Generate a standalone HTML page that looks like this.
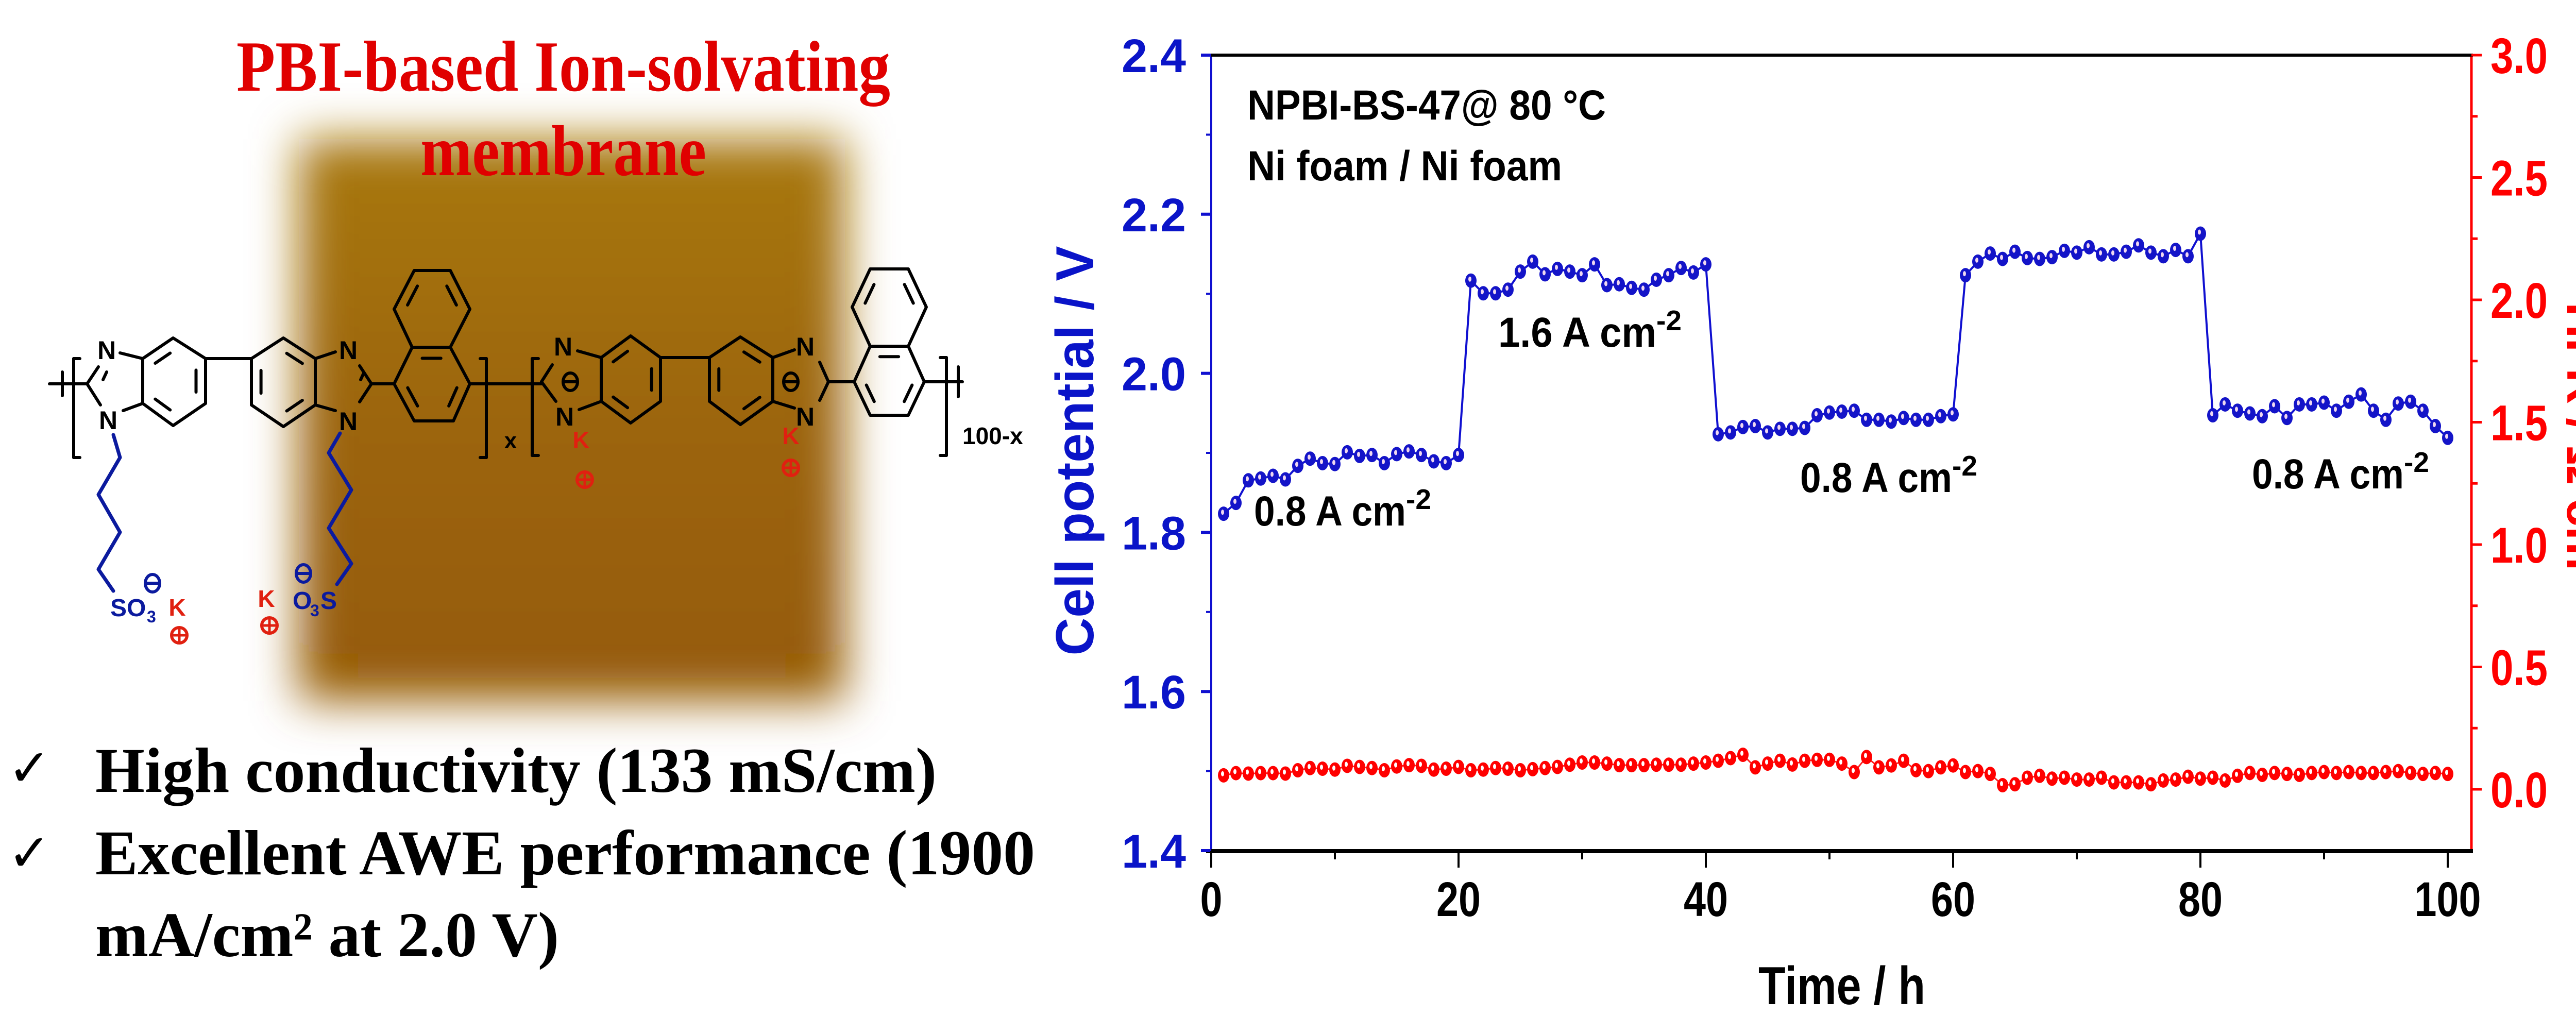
<!DOCTYPE html>
<html><head><meta charset="utf-8"><style>
html,body{margin:0;padding:0;background:#fff;}
svg{display:block;}
</style></head><body>
<svg id="s" xmlns="http://www.w3.org/2000/svg" width="5072" height="1972" viewBox="0 0 5072 1972">
<defs>
<filter id="blur" x="-30%" y="-30%" width="160%" height="160%"><feGaussianBlur stdDeviation="45"/></filter>
<linearGradient id="brown" x1="0" y1="0" x2="0" y2="1">
<stop offset="0" stop-color="#a8780e"/><stop offset="0.5" stop-color="#9c650a"/><stop offset="1" stop-color="#955a06"/>
</linearGradient>
</defs>
<rect width="5072" height="1972" fill="#fff"/>
<rect x="580" y="270" width="1060" height="1090" fill="url(#brown)" filter="url(#blur)"/>

<g font-family="'Liberation Serif',serif" font-weight="bold" fill="#e00000" font-size="140">
<text x="459" y="176" textLength="1269" lengthAdjust="spacingAndGlyphs">PBI-based Ion-solvating</text>
<text x="816" y="340" textLength="555" lengthAdjust="spacingAndGlyphs">membrane</text>
</g>

<g id="chem" stroke="#000" stroke-width="6" fill="none" stroke-linecap="round"></g>
<g id="chemtext" font-family="'Liberation Sans',sans-serif" font-weight="bold"></g>

<g font-family="'Liberation Serif',serif" font-weight="bold" fill="#000" font-size="124">
<text x="185" y="1537" textLength="1633" lengthAdjust="spacingAndGlyphs">High conductivity (133 mS/cm)</text>
<text x="185" y="1697" textLength="1824" lengthAdjust="spacingAndGlyphs">Excellent AWE performance (1900</text>
<text x="185" y="1856" textLength="900" lengthAdjust="spacingAndGlyphs">mA/cm² at 2.0 V)</text>
</g>
<g font-family="'DejaVu Sans',sans-serif" fill="#000" font-size="100">
<text x="15" y="1525">✓</text>
<text x="15" y="1690">✓</text>
</g>

<g id="plot"></g>
</svg>
<script>
(function(){
var NS="http://www.w3.org/2000/svg";
function el(p,t,a,txt){var e=document.createElementNS(NS,t);for(var k in a)e.setAttribute(k,a[k]);if(txt!==undefined)e.textContent=txt;p.appendChild(e);return e;}
var chem=document.getElementById('chem'),ct=document.getElementById('chemtext'),plot=document.getElementById('plot');
function L(a,b,c,d,col,w){var o={x1:a,y1:b,x2:c,y2:d};if(col)o.stroke=col;if(w)o['stroke-width']=w;el(chem,'line',o);}
function ring(v,edges){var cx=0,cy=0;v.forEach(function(p){cx+=p[0];cy+=p[1];});cx/=6;cy/=6;
 var d=v.map(function(p){return p.join(',');}).join(' ');el(chem,'polygon',{points:d,'stroke-linejoin':'round'});
 edges.forEach(function(i){var a=v[i],b=v[(i+1)%6];var f=0.7;
  var ax=cx+(a[0]-cx)*f,ay=cy+(a[1]-cy)*f,bx=cx+(b[0]-cx)*f,by=cy+(b[1]-cy)*f;
  var s=0.15;L(ax+(bx-ax)*s,ay+(by-ay)*s,bx-(bx-ax)*s,by-(by-ay)*s);});}
ring([[277,696],[336,656],[399,696],[399,783],[336,826],[277,783]],[0,2,4]);
ring([[488,696],[550,656],[612,696],[612,786],[550,828],[488,786]],[5,1,3]);
ring([[765,745],[800,674],[874,674],[912,745],[880,817],[804,817]],[1,3,5]);
ring([[800,674],[765,600],[804,525],[874,525],[912,600],[874,674]],[1,3]);
ring([[1167,694],[1224,652],[1282,694],[1282,779],[1224,821],[1167,779]],[0,2,4]);
ring([[1377,694],[1437,654],[1500,694],[1500,779],[1437,824],[1377,779]],[5,1,3]);
ring([[1658,741],[1689,672],[1763,672],[1794,741],[1763,806],[1689,806]],[1,3,5]);
ring([[1689,672],[1654,596],[1689,522],[1763,522],[1798,596],[1763,672]],[1,3]);
L(96,745,169,745);L(121,722,121,768);
L(169,745,191,712);L(169,745,195,786);L(200,737,207,722);
L(233,685,277,696);L(239,797,277,783);
L(399,696,488,696);
L(612,696,651,683);L(612,786,651,797);
L(698,710,721,745);L(698,780,721,745);L(700,737,706,724);
L(721,745,765,745);L(912,745,1051,745);
L(1051,741,1072,708);L(1051,741,1079,779);
L(1121,681,1167,694);L(1124,795,1167,779);
L(1282,694,1377,694);
L(1500,694,1542,679);L(1500,779,1542,792);
L(1591,703,1608,741);L(1591,777,1608,741);
L(1608,741,1658,741);L(1794,741,1868,741);L(1860,712,1860,770);
function brk(x,y1,y2,dir){L(x,y1,x,y2);L(x,y1,x+dir*12,y1);L(x,y2,x+dir*12,y2);}
brk(143,696,888,1);brk(944,696,888,-1);brk(1033,696,884,1);brk(1837,694,884,-1);
el(chem,'polyline',{points:'220,844 233,888 191,960 233,1033 191,1105 220,1147',stroke:'#0b1a9e','stroke-width':7,'stroke-linejoin':'round'});
el(chem,'polyline',{points:'660,841 638,879 682,951 638,1025 682,1094 654,1134',stroke:'#0b1a9e','stroke-width':7,'stroke-linejoin':'round'});
function T(x,y,s,fs,col,anchor){el(ct,'text',{x:x,y:y,'font-size':fs,fill:col||'#000','text-anchor':anchor||'middle'},s);}
T(207,697,'N',50);T(210,833,'N',50);T(676,697,'N',50);T(676,835,'N',50);
T(1093,690,'N',50);T(1096,826,'N',50);T(1563,690,'N',50);T(1563,826,'N',50);
T(991,870,'x',44);T(1868,862,'100-x',46,'#000','start');
function minus(x,y,col){el(chem,'ellipse',{cx:x,cy:y,rx:14,ry:17,stroke:col,'stroke-width':6});L(x-12,y,x+12,y,col,6);}
function plus(x,y,col){el(chem,'circle',{cx:x,cy:y,r:15,stroke:col,'stroke-width':6});L(x-13,y,x+13,y,col,5);L(x,y-13,x,y+13,col,5);}
minus(1107,741,'#000');minus(1535,741,'#000');
minus(296,1132,'#0b1a9e');minus(589,1113,'#0b1a9e');
T(214,1196,'SO',48,'#0b1a9e','start');T(285,1208,'3',32,'#0b1a9e','start');
T(568,1182,'O',48,'#0b1a9e','start');T(602,1196,'3',32,'#0b1a9e','start');T(622,1182,'S',48,'#0b1a9e','start');
T(344,1195,'K',46,'#e02010');plus(348,1233,'#e02010');
T(517,1178,'K',46,'#e02010');plus(523,1214,'#e02010');
T(1128,870,'K',46,'#e02010');plus(1135,931,'#e02010');
T(1535,862,'K',46,'#e02010');plus(1535,908,'#e02010');

var X0=2351,XS=24,YT=107,YB=1652;
function vy(v){return YT+(2.4-v)*1544;}
function hy(v){return YT+(3.0-v)*475;}
var F="'Liberation Sans',Arial,sans-serif";
el(plot,'line',{x1:X0,y1:YT,x2:X0,y2:YB,stroke:'#1010d0','stroke-width':4});
el(plot,'line',{x1:4797,y1:YT,x2:4797,y2:YB,stroke:'#ff0000','stroke-width':5});
el(plot,'line',{x1:X0-10,y1:YT,x2:4800,y2:YT,stroke:'#000','stroke-width':6});
el(plot,'line',{x1:X0-10,y1:YB,x2:4800,y2:YB,stroke:'#000','stroke-width':8});
for(var i=0;i<=10;i++){var v=2.4-i*0.1,y=vy(v),maj=(i%2==0);
 el(plot,'line',{x1:X0-(maj?20:10),y1:y,x2:X0,y2:y,stroke:'#1010d0','stroke-width':maj?6:4});
 if(maj)el(plot,'text',{x:2177,y:y+33,'font-family':F,'font-weight':'bold','font-size':92,fill:'#0a14c8',textLength:125,lengthAdjust:'spacingAndGlyphs'},v.toFixed(1));}
for(var i=0;i<=12;i++){var v=3.0-i*0.25,y=hy(v),maj=(i%2==0);if(y>YB)break;
 el(plot,'line',{x1:4797,y1:y,x2:4797+(maj?20:12),y2:y,stroke:'#ff0000','stroke-width':5});
 if(maj)el(plot,'text',{x:4834,y:y+35,'font-family':F,'font-weight':'bold','font-size':97,fill:'#ff0000',textLength:111,lengthAdjust:'spacingAndGlyphs'},v.toFixed(1));}
for(var t=0;t<=100;t+=10){var x=X0+t*XS,maj=(t%20==0);
 el(plot,'line',{x1:x,y1:YB,x2:x,y2:YB+(maj?32:16),stroke:'#000','stroke-width':4});
 if(maj){var s=String(t),w=43*s.length;el(plot,'text',{x:x-w/2,y:1778,'font-family':F,'font-weight':'bold','font-size':95,fill:'#000',textLength:w,lengthAdjust:'spacingAndGlyphs'},s);}}
el(plot,'text',{x:0,y:0,transform:'translate(2122,875) rotate(-90)','font-family':F,'font-weight':'bold','font-size':104,fill:'#0a14c8','text-anchor':'middle',textLength:795,lengthAdjust:'spacingAndGlyphs'},'Cell potential / V');
var hl=el(plot,'text',{x:0,y:0,transform:'translate(4983,587) rotate(90)','font-family':F,'font-weight':'bold','font-size':95,fill:'#ff0000'});
hl.innerHTML='<tspan textLength="520" lengthAdjust="spacingAndGlyphs">HFR / Ω cm</tspan><tspan dy="-35" font-size="62">2</tspan>';
el(plot,'text',{x:3413,y:1949,'font-family':F,'font-weight':'bold','font-size':104,fill:'#000',textLength:324,lengthAdjust:'spacingAndGlyphs'},'Time / h');
function ann(x,y,s,w){var t=el(plot,'text',{x:x,y:y,'font-family':F,'font-weight':'bold','font-size':82,fill:'#000'});t.innerHTML=s;}
el(plot,'text',{x:2421,y:232,'font-family':F,'font-weight':'bold','font-size':82,fill:'#000',textLength:696,lengthAdjust:'spacingAndGlyphs'},'NPBI-BS-47@ 80 °C');
el(plot,'text',{x:2421,y:350,'font-family':F,'font-weight':'bold','font-size':82,fill:'#000',textLength:611,lengthAdjust:'spacingAndGlyphs'},'Ni foam / Ni foam');
ann(2908,673,'<tspan textLength="307" lengthAdjust="spacingAndGlyphs">1.6 A cm</tspan><tspan dy="-32" font-size="55">-2</tspan>');
ann(2434,1020,'<tspan textLength="295" lengthAdjust="spacingAndGlyphs">0.8 A cm</tspan><tspan dy="-32" font-size="55">-2</tspan>');
ann(3494,955,'<tspan textLength="295" lengthAdjust="spacingAndGlyphs">0.8 A cm</tspan><tspan dy="-32" font-size="55">-2</tspan>');
ann(4371,948,'<tspan textLength="295" lengthAdjust="spacingAndGlyphs">0.8 A cm</tspan><tspan dy="-32" font-size="55">-2</tspan>');
var B=[1560,1500,1375,1365,1350,1370,1295,1255,1280,1285,1220,1240,1235,1280,1230,1215,1235,1270,1280,1235,
270,340,340,320,220,165,235,205,220,240,180,295,290,310,320,265,240,200,225,180,
1120,1110,1080,1075,1110,1090,1090,1085,1015,1000,995,990,1040,1040,1050,1030,1040,1040,1020,1010,
240,165,120,150,110,145,150,140,105,115,85,125,125,110,75,115,135,100,135,10,
1015,955,990,1005,1020,965,1030,955,955,945,990,940,900,990,1040,950,940,990,1075,1140];
var R1=[478,468,470,468,468,470,455,445,448,452,435,440,445,455,438,432,435,452,448,440,455,452,445,448,455,450,445,440,430,420,420,425,432,432,432,430,430,430,425,420,412,400,385];
var R2=[245,225,210,230,210,205,205,225,270,190,245,235,210,260,265,245,235,270,265,280,340,335,300,290,305,300,310,310,300,325,325,325,335,315,310,295,305,300,315,290,275,285,275,280,285,275,270,275,270,275,275,270,265,275,280,275,280];
var bp=[],rp=[];
for(var i=0;i<100;i++){bp.push([X0+(i+1)*XS,450+B[i]/2.851]);}
for(var i=0;i<43;i++){rp.push([X0+(i+1)*XS,1300+R1[i]/2.333]);}
for(var i=0;i<57;i++){rp.push([X0+(i+44)*XS,1400+R2[i]/2.741]);}
el(plot,'polyline',{points:rp.map(function(p){return p.join(',');}).join(' '),fill:'none',stroke:'#ff2020','stroke-width':3});
el(plot,'polyline',{points:bp.map(function(p){return p.join(',');}).join(' '),fill:'none',stroke:'#1010d0','stroke-width':4});
rp.forEach(function(p){el(plot,'ellipse',{cx:p[0],cy:p[1],rx:11,ry:14,fill:'#ff0000'});el(plot,'ellipse',{cx:p[0]-2,cy:p[1]-3,rx:3,ry:5,fill:'#fff'});});
bp.forEach(function(p){el(plot,'ellipse',{cx:p[0],cy:p[1],rx:11,ry:14,fill:'#1414c8'});el(plot,'ellipse',{cx:p[0]-2,cy:p[1]-3,rx:3,ry:5,fill:'#f0d8f0'});});
})();
</script>
</body></html>
